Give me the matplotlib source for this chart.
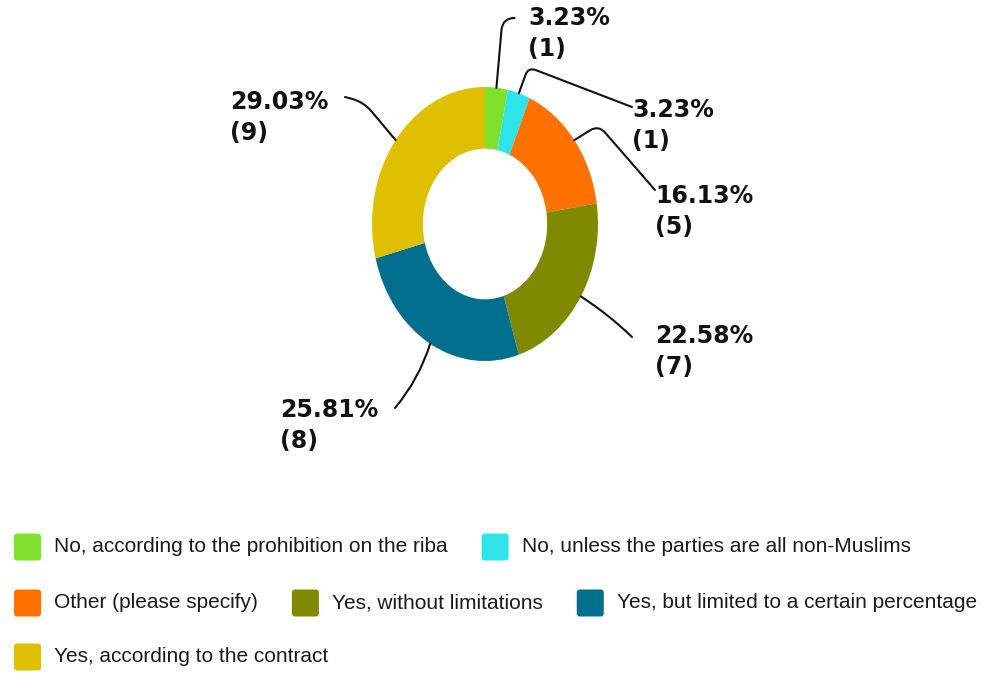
import matplotlib
matplotlib.use('Agg')
import matplotlib.pyplot as plt
from matplotlib.patches import FancyBboxPatch
import numpy as np

categories = ['No, according to the prohibition on the riba',
              'No, unless the parties are all non-Muslims',
              'Other (please specify)',
              'Yes, without limitations',
              'Yes, but limited to a certain percentage',
              'Yes, according to the contract']
counts = [1, 1, 5, 7, 8, 9]
percent_labels = ['3.23%', '3.23%', '16.13%', '22.58%', '25.81%', '29.03%']
colors = ['#7ee22c', '#2fe3ea', '#ff7200', '#7f8a00', '#006f8e', '#dfc000']

W, H = 995, 675
CX, CY = 485, 224   # donut centre in px (from top left)
RX, RY = 113, 137   # the donut is stretched vertically

# label text top-left corner, leader end near text (px), and leader shape
label_pos = [(528, 6), (632, 98), (655, 184), (655, 324), (280, 398), (230, 90)]
line_end = [(512, 18), (632, 107), (655, 190), (632, 337), (395, 408), (345, 97)]
conn = ['angle,angleA=0,angleB=85,rad=12',
        'angle,angleA=-21,angleB=70,rad=8',
        'angle,angleA=131,angleB=32,rad=10',
        'arc3,rad=0.05',
        'arc3,rad=0.1',
        'angle,angleA=-15,angleB=130,rad=12']


def px2d(x, y):
    return ((x - CX) / RX, (CY - y) / RY)


fig = plt.figure(figsize=(W / 100, H / 100), dpi=100)

# background axes in pixel units for the legend
lax = fig.add_axes([0, 0, 1, 1])
lax.set_xlim(0, W)
lax.set_ylim(H, 0)
lax.axis('off')

ax = fig.add_axes([0, 0, 1, 1])
wedges, _ = ax.pie(counts, colors=colors, startangle=90, counterclock=False,
                   wedgeprops=dict(width=0.45, edgecolor='none'))
ax.set_aspect('auto')
ax.set_xlim(-CX / RX, (W - CX) / RX)
ax.set_ylim(-(H - CY) / RY, CY / RY)
ax.axis('off')

for i, w in enumerate(wedges):
    mid = np.deg2rad((w.theta1 + w.theta2) / 2)
    xy = (np.cos(mid), np.sin(mid))
    ax.annotate('', xy=xy, xytext=px2d(*line_end[i]),
                arrowprops=dict(arrowstyle='-', color='#111111', lw=1.5,
                                connectionstyle=conn[i], shrinkA=0, shrinkB=0))
    tx, ty = px2d(*label_pos[i])
    ax.text(tx, ty, f'{percent_labels[i]}\n({counts[i]})', ha='left', va='top',
            fontsize=17, fontweight='bold', family='DejaVu Sans',
            linespacing=1.35, color='#111111')

# flow-layout legend
renderer = fig.canvas.get_renderer()
row_y = [547, 603, 657]
x, row = 14, 0
box = 27
text_off = 40
gap = 34
for lab, col in zip(categories, colors):
    t = lax.text(0, 0, lab, fontsize=15, family='Liberation Sans', va='center',
                 color='#1a1a1a')
    tw = t.get_window_extent(renderer).width
    item_w = text_off + tw
    if x + item_w > W:
        row += 1
        x = 14
    yc = row_y[row]
    lax.add_patch(FancyBboxPatch((x + 3, yc - box / 2 + 3), box - 6, box - 6,
                                 boxstyle='round,pad=3', facecolor=col,
                                 edgecolor='none'))
    t.set_position((x + text_off, yc))
    x += item_w + gap

fig.savefig('out.png', dpi=100)
